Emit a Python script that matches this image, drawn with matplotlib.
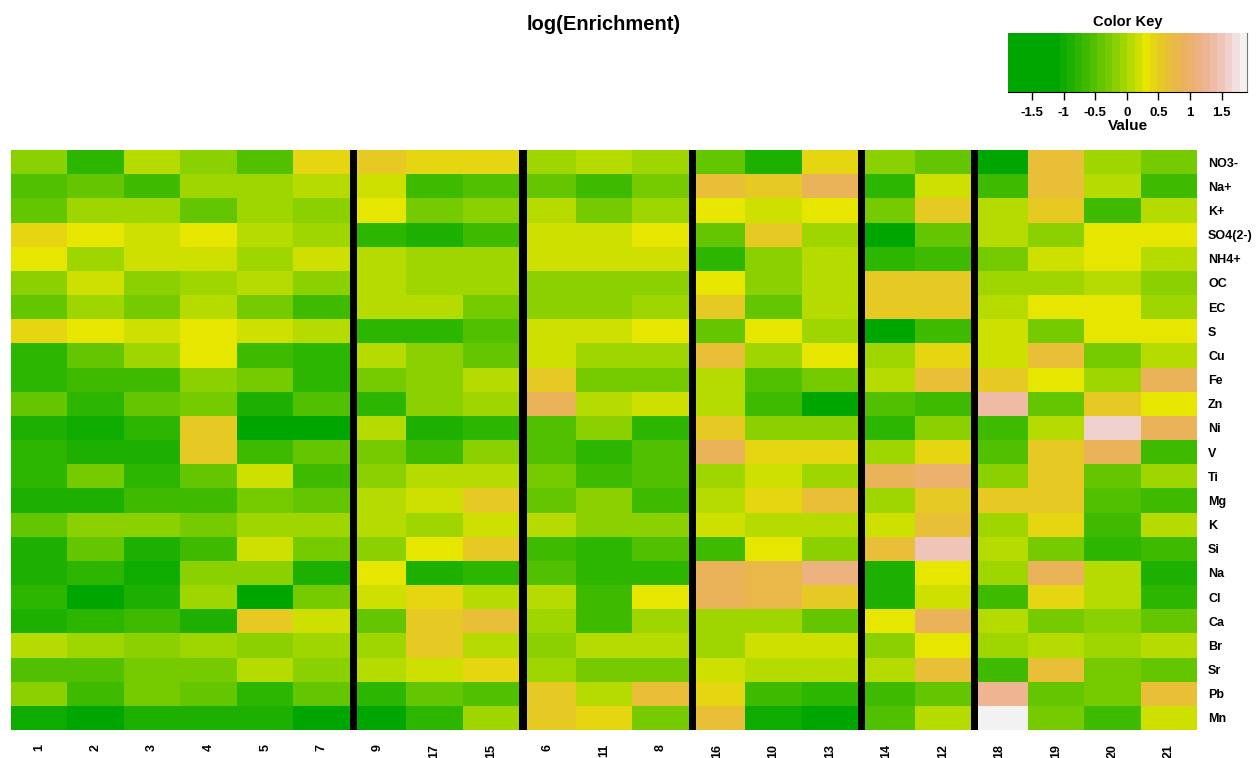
import colorsys
import numpy as np
import matplotlib
matplotlib.use('Agg')
import matplotlib.pyplot as plt
from matplotlib.colors import ListedColormap, BoundaryNorm

plt.rcParams['font.family'] = ['Liberation Sans', 'DejaVu Sans']

# column (sample) order and row (species) labels as shown
samples = ['1', '2', '3', '4', '5', '7', '9', '17', '15', '6', '11', '8',
           '16', '10', '13', '14', '12', '18', '19', '20', '21']
species = ['NO3-', 'Na+', 'K+', 'SO4(2-)', 'NH4+', 'OC', 'EC', 'S', 'Cu', 'Fe',
           'Zn', 'Ni', 'V', 'Ti', 'Mg', 'K', 'Si', 'Na', 'Cl', 'Ca', 'Br',
           'Sr', 'Pb', 'Mn']
# columns after which a separator is drawn
col_sep = [6, 9, 12, 15, 17]

# log(enrichment) per species, in sample order
no3 = [-0.17, -0.76, 0.06, -0.17, -0.53, 0.42, 0.54, 0.42, 0.42, -0.05, 0.06, -0.05, -0.41, -0.88, 0.42, -0.17, -0.41, -1.45, 0.66, -0.05, -0.29]
na_ion = [-0.53, -0.41, -0.65, -0.05, -0.05, 0.06, 0.18, -0.65, -0.53, -0.41, -0.65, -0.29, 0.66, 0.54, 0.90, -0.76, 0.18, -0.65, 0.66, 0.06, -0.65]
k_ion = [-0.41, -0.05, -0.05, -0.41, -0.05, -0.17, 0.30, -0.29, -0.17, 0.06, -0.29, -0.05, 0.30, 0.18, 0.30, -0.29, 0.54, 0.06, 0.54, -0.65, 0.06]
so4 = [0.42, 0.30, 0.18, 0.30, 0.06, -0.05, -0.76, -0.88, -0.65, 0.18, 0.18, 0.30, -0.41, 0.54, -0.05, -1.45, -0.41, 0.06, -0.17, 0.30, 0.30]
nh4 = [0.30, -0.05, 0.18, 0.18, -0.05, 0.18, 0.06, -0.05, -0.05, 0.18, 0.18, 0.18, -0.76, -0.17, 0.06, -0.76, -0.65, -0.29, 0.18, 0.30, 0.06]
oc = [-0.17, 0.18, -0.17, -0.05, 0.06, -0.17, 0.06, -0.05, -0.05, -0.17, -0.17, -0.17, 0.30, -0.17, 0.06, 0.54, 0.54, -0.05, -0.05, 0.06, -0.17]
ec = [-0.41, -0.05, -0.29, 0.06, -0.29, -0.65, 0.06, 0.06, -0.29, -0.17, -0.17, -0.05, 0.54, -0.41, 0.06, 0.54, 0.54, 0.06, 0.30, 0.30, -0.05]
s = [0.42, 0.30, 0.18, 0.30, 0.18, 0.06, -0.76, -0.76, -0.53, 0.18, 0.18, 0.30, -0.41, 0.30, -0.05, -1.45, -0.65, 0.18, -0.29, 0.30, 0.30]
cu = [-0.76, -0.41, -0.05, 0.30, -0.65, -0.76, 0.06, -0.17, -0.41, 0.18, -0.05, -0.05, 0.66, -0.05, 0.30, -0.05, 0.42, 0.18, 0.66, -0.29, 0.06]
fe = [-0.76, -0.65, -0.65, -0.17, -0.29, -0.76, -0.29, -0.17, 0.06, 0.54, -0.29, -0.29, 0.06, -0.53, -0.29, 0.06, 0.66, 0.54, 0.30, -0.05, 0.90]
zn = [-0.41, -0.76, -0.41, -0.29, -0.88, -0.53, -0.76, -0.17, -0.05, 0.90, 0.06, 0.18, 0.06, -0.65, -1.45, -0.53, -0.65, 1.37, -0.41, 0.54, 0.30]
ni = [-0.88, -1.00, -0.76, 0.54, -1.45, -1.45, 0.06, -0.88, -0.76, -0.53, -0.17, -0.76, 0.54, -0.17, -0.17, -0.76, -0.17, -0.65, 0.06, 1.61, 0.90]
v = [-0.76, -0.88, -0.88, 0.54, -0.65, -0.41, -0.29, -0.65, -0.17, -0.53, -0.76, -0.53, 0.90, 0.42, 0.42, -0.05, 0.42, -0.53, 0.54, 0.90, -0.65]
ti = [-0.76, -0.29, -0.76, -0.41, 0.18, -0.65, -0.17, 0.06, 0.06, -0.29, -0.65, -0.53, -0.05, 0.18, -0.05, 0.90, 1.01, -0.17, 0.54, -0.41, -0.05]
mg = [-0.88, -0.88, -0.65, -0.65, -0.29, -0.41, 0.06, 0.18, 0.54, -0.41, -0.17, -0.65, 0.06, 0.42, 0.66, -0.05, 0.54, 0.54, 0.54, -0.53, -0.65]
k = [-0.41, -0.17, -0.17, -0.29, -0.05, -0.05, 0.06, -0.05, 0.18, 0.06, -0.17, -0.17, 0.18, 0.06, 0.06, 0.18, 0.66, -0.05, 0.42, -0.65, 0.06]
si = [-0.88, -0.41, -0.88, -0.65, 0.18, -0.29, -0.17, 0.30, 0.54, -0.65, -0.76, -0.53, -0.65, 0.30, -0.17, 0.66, 1.49, 0.06, -0.29, -0.76, -0.65]
na = [-0.88, -0.76, -1.00, -0.17, -0.17, -0.88, 0.30, -0.88, -0.76, -0.53, -0.76, -0.76, 0.90, 0.78, 1.13, -0.88, 0.30, -0.05, 0.90, 0.06, -0.88]
cl = [-0.76, -1.45, -0.88, -0.05, -1.45, -0.29, 0.18, 0.42, 0.06, 0.06, -0.65, 0.30, 0.90, 0.78, 0.54, -0.88, 0.18, -0.65, 0.42, 0.06, -0.76]
ca = [-0.88, -0.76, -0.65, -0.88, 0.54, 0.18, -0.41, 0.54, 0.66, -0.05, -0.65, -0.05, -0.05, -0.05, -0.41, 0.30, 0.90, 0.06, -0.29, -0.17, -0.41]
br = [0.06, -0.05, -0.17, -0.05, -0.17, -0.05, -0.05, 0.54, 0.06, -0.17, 0.06, 0.06, -0.05, 0.18, 0.18, -0.17, 0.30, -0.05, 0.06, -0.05, 0.06]
sr = [-0.53, -0.53, -0.29, -0.29, 0.06, -0.17, 0.06, 0.18, 0.42, -0.05, -0.29, -0.29, 0.18, 0.06, 0.06, 0.06, 0.66, -0.65, 0.66, -0.29, -0.41]
pb = [-0.17, -0.65, -0.29, -0.41, -0.76, -0.41, -0.76, -0.41, -0.53, 0.54, 0.06, 0.66, 0.42, -0.65, -0.76, -0.65, -0.41, 1.25, -0.41, -0.29, 0.66]
mn = [-1.00, -1.45, -0.88, -0.88, -0.88, -1.45, -1.45, -0.76, -0.05, 0.54, 0.42, -0.29, 0.66, -1.00, -1.45, -0.53, 0.06, 1.84, -0.29, -0.65, 0.18]

data = np.array([no3, na_ion, k_ion, so4, nh4, oc, ec, s, cu, fe, zn, ni,
                 v, ti, mg, k, si, na, cl, ca, br, sr, pb, mn])


def terrain_colors(n):
    # same recipe as R's terrain.colors()
    half = n // 2
    out = []
    for h, sat, val in zip(np.linspace(4/12, 2/12, half), np.ones(half),
                           np.linspace(0.65, 0.9, half)):
        out.append(colorsys.hsv_to_rgb(h, sat, val))
    m = n - half + 1
    for h, sat, val in zip(np.linspace(2/12, 0, m)[1:], np.linspace(1, 0, m)[1:],
                           np.linspace(0.9, 0.95, m)[1:]):
        out.append(colorsys.hsv_to_rgb(h, sat, val))
    return out


n_col = 26
breaks = np.concatenate([[-1.88], np.linspace(-1.06, 1.9, n_col)])
cmap = ListedColormap(terrain_colors(n_col))
norm = BoundaryNorm(breaks, cmap.N)

fig = plt.figure(figsize=(12.59, 7.58), dpi=100)

# main heatmap
ax = fig.add_axes([11/1259, 1 - 730/758, 1186/1259, 580/758])
ax.pcolormesh(np.arange(len(samples) + 1), np.arange(len(species) + 1), data,
              cmap=cmap, norm=norm)
ax.set_xlim(0, len(samples))
ax.set_ylim(len(species), 0)
for c in col_sep:
    ax.axvspan(c, c + 0.13, color='black', lw=0)
for sp in ax.spines.values():
    sp.set_visible(False)
ax.yaxis.tick_right()
ax.set_yticks(np.arange(len(species)) + 0.5)
ax.set_yticklabels(species, fontsize=9, fontweight='bold')
ax.set_xticks(np.arange(len(samples)) + 0.5)
ax.set_xticklabels(samples, rotation=90, fontsize=9, fontweight='bold', va='top')
ax.tick_params(axis='both', length=0)
ax.tick_params(axis='y', pad=8)
ax.tick_params(axis='x', pad=10)

fig.text(604/1259, 1 - 25/758, 'log(Enrichment)', ha='center', va='center',
         fontsize=14.5, fontweight='bold')

# colour key
kax = fig.add_axes([1008/1259, 1 - 92/758, 239/1259, 59/758])
kax.pcolormesh(breaks, [0, 1], np.array([(breaks[:-1] + breaks[1:]) / 2]),
               cmap=cmap, norm=norm)
kax.set_xlim(breaks[0], breaks[-1])
kax.set_ylim(0, 1)
kax.set_yticks([])
ticks = [-1.5, -1, -0.5, 0, 0.5, 1, 1.5]
kax.set_xticks(ticks)
kax.set_xticklabels(['-1.5', '-1', '-0.5', '0', '0.5', '1', '1.5'],
                    fontsize=9.5, fontweight='bold')
kax.tick_params(axis='x', length=6, width=1, pad=5)
kax.spines['top'].set_visible(False)
kax.spines['left'].set_visible(False)
kax.spines['right'].set_color('#777777')
kax.set_title('Color Key', fontsize=10.5, fontweight='bold', pad=5)
kax.set_xlabel('Value', fontsize=11, fontweight='bold', labelpad=0)

fig.savefig('out.png', dpi=100)
